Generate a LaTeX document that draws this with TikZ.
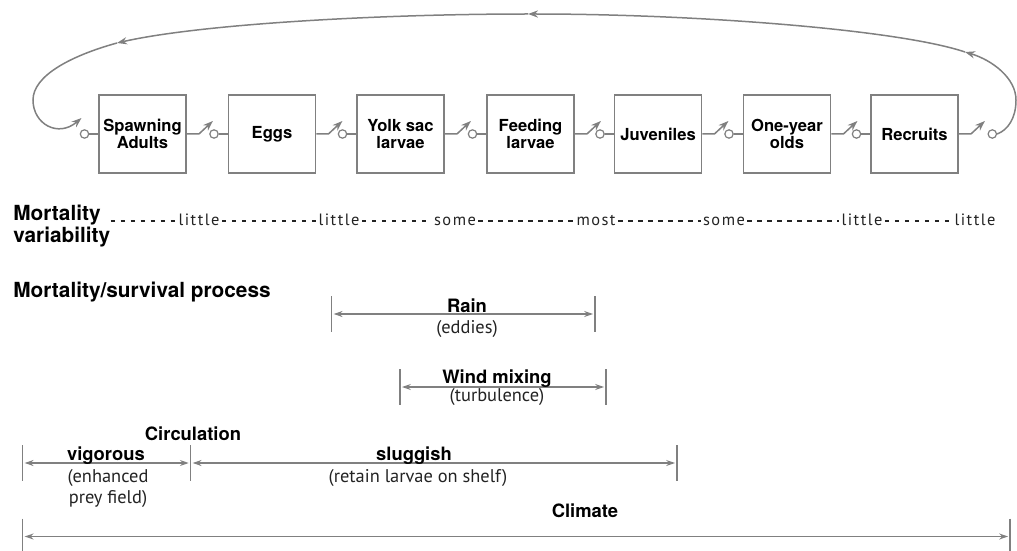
\documentclass[tikz,border=0pt]{standalone}
\usepackage{fontspec}
\setmainfont{TeX Gyre Heros}
\newfontfamily\ptsans{PT Sans}
\newfontfamily\ptspaced[LetterSpace=9]{PT Sans}
\usetikzlibrary{arrows.meta,positioning,calc}
\definecolor{lc}{RGB}{128,128,128}
\definecolor{txt}{RGB}{35,35,35}
\tikzset{stage/.style={draw=lc,line width=0.9pt,minimum width=43.5pt,minimum height=39pt,inner sep=0pt,align=center,
    font=\fontsize{8.3}{8.8}\selectfont\bfseries},
  contact/.style={circle,draw=lc,fill=white,line width=0.6pt,minimum size=4.2pt,inner sep=0pt},
  lever/.style={-{Stealth[length=5pt,width=3.6pt]},lc,line width=0.75pt},
  span/.style={{Stealth[length=4.4pt,width=3pt]}-{Stealth[length=4.4pt,width=3pt]},lc,line width=0.6pt,
    shorten <=1pt,shorten >=1pt},
  tick/.style={lc,line width=0.75pt},
  hyph/.style={txt,line width=0.6pt,dash pattern=on 2.3pt off 2.7pt},
  head/.style={font=\fontsize{10.4}{9.2}\selectfont\bfseries,align=left,inner sep=0pt},
  lab/.style={font=\fontsize{9.2}{10}\selectfont\bfseries,inner sep=0pt,anchor=base},
  note/.style={font=\ptsans\fontsize{9.2}{10.5}\selectfont,text=txt,align=center,inner sep=0pt,anchor=base},
  level/.style={font=\ptspaced\fontsize{8.2}{9}\selectfont,text=txt,inner sep=1pt,anchor=base}}

\begin{document}
\begin{tikzpicture}[x=0.5pt, y=-0.5pt]
\useasboundingbox (0,0) rectangle (1017,551);
% life stages
\foreach \n/\x/\t in {adults/142.5/Spawning\\Adults, eggs/272/Eggs, yolk/400.5/Yolk sac\\larvae,
    feeding/530.5/Feeding\\larvae, juv/658/Juveniles, oneyr/787/One-year\\olds, recruits/914.5/Recruits}
  \node[stage] (\n) at (\x,134) {\t};
\foreach \n in {adults,eggs,yolk,feeding,juv,oneyr,recruits} {
  \node[contact, left=4.4pt of \n] (c\n) {};
  \draw[lc, line width=0.75pt] (c\n) -- (\n);
  \draw[lever] (\n.east) -- ++(12,0) -- ++(14,-13);
}
\node[contact, right=14.3pt of recruits] (cend) {};
% feedback loop
\coordinate (fb1) at (965,52);
\coordinate (fb2) at (528,14);
\coordinate (fb3) at (117,43);
\coordinate (fbend) at ($(cadults)+(-3,-16)$);
\draw[lever] (cend.east) .. controls (1008,130) and (1016,118) .. (1016,100)
  .. controls (1016,78) and (992,60) .. (fb1);
\draw[lever] (fb1) .. controls (900,30) and (700,14) .. (fb2);
\draw[lever] (fb2) .. controls (380,14) and (200,24) .. (fb3);
\draw[lever] (fb3) .. controls (70,56) and (33,76) .. (33,100)
  .. controls (33,124) and (58,138) .. (fbend);

% mortality variability
\node[head, anchor=north west] (mortvar) at (13,204.5) {Mortality\\variability};
\node[level] (lv1) at (199,225) {little};
\node[level] (lv2) at (339,225) {little};
\node[level] (lv3) at (455,225) {some};
\node[level] (lv4) at (596,225) {most};
\node[level] (lv5) at (724,225) {some};
\node[level] (lv6) at (862,225) {little};
\node[level] (lv7) at (975,225) {little};
\draw[hyph] ([yshift=2pt]lv1.base west -| mortvar.east) -- ([yshift=2pt]lv1.base west);
\foreach \a/\b in {lv1/lv2,lv2/lv3,lv3/lv4,lv4/lv5,lv5/lv6,lv6/lv7}
  \draw[hyph] ([yshift=2pt]\a.base east) -- ([yshift=2pt]\b.base west);

% processes
\node[head, anchor=base west] (process) at (13,297) {Mortality/survival process};
\coordinate (rainL) at (331.7,314);
\coordinate (rainR) at (595,314);
\coordinate (windL) at (400,387);
\coordinate (windR) at (606,387);
\coordinate (vigL) at (22.7,463);
\coordinate (vigR) at (190.7,463);
\coordinate (slugR) at (677,463);
\coordinate (climL) at (22.7,536.5);
\coordinate (climR) at (1010,536.5);
\foreach \c in {rainL,rainR,windL,windR,vigL,vigR,slugR,climL,climR}
  \draw[tick] (\c) ++(0,-18) -- ++(0,36);
\draw[span] (rainL) -- (rainR);
\draw[span] (windL) -- (windR);
\draw[span] (vigL) -- (vigR);
\draw[span] (vigR) -- (slugR);
\draw[span] (climL) -- (climR);
\node[lab] (rain) at (467,312) {Rain};
\node[note] (eddies) at (467,333) {(eddies)};
\node[lab] (wind) at (497,383) {Wind mixing};
\node[note] (turb) at (497,401.5) {(turbulence)};
\node[lab] (circ) at (193,440) {Circulation};
\node[lab] (vig) at (106,460) {vigorous};
\node[note] (prey) at (108,503) {(enhanced\\prey field)};
\node[lab] (slug) at (414,460) {sluggish};
\node[note] (shelf) at (418,482) {(retain larvae on shelf)};
\node[lab] (clim) at (585,517) {Climate};
\end{tikzpicture}
\end{document}
